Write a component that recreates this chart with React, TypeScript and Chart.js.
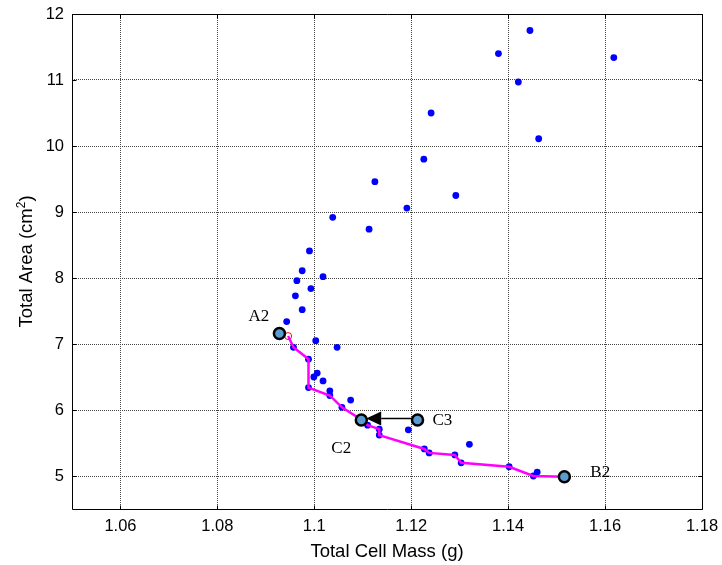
import React, { useEffect, useRef } from 'react';
import { Chart, registerables } from 'chart.js';

Chart.register(...registerables);

// ---- data ----
const cellMass = [
  1.1125, 1.1191, 1.1038, 1.1113, 1.0990, 1.0975, 1.1018, 1.0964, 1.0993, 1.0961,
  1.0975, 1.0943, 1.1003, 1.0957, 1.1047, 1.0988, 1.1006, 1.0999, 1.1018, 1.0988,
  1.1032, 1.1032, 1.1075, 1.1057, 1.1110, 1.1134, 1.1134, 1.1194, 1.1227, 1.1237,
  1.1320, 1.1290, 1.1303, 1.1402, 1.1452, 1.1460, 1.1445, 1.1380, 1.1618, 1.1421,
  1.1241, 1.1463, 1.1226, 1.1292,
];
const totalArea = [
  9.46, 9.06, 8.92, 8.74, 8.41, 8.11, 8.02, 7.96, 7.84, 7.73,
  7.52, 7.34, 7.05, 6.95, 6.95, 6.77, 6.56, 6.50, 6.44, 6.34,
  6.29, 6.22, 6.15, 6.04, 5.77, 5.71, 5.62, 5.70, 5.41, 5.35,
  5.48, 5.32, 5.20, 5.14, 5.00, 5.06, 11.75, 11.40, 11.34, 10.97,
  10.50, 10.11, 9.80, 9.25,
];
const pathMass = [
  1.0946, 1.0957, 1.0988, 1.0988, 1.1032, 1.1057, 1.1098, 1.1110, 1.1134, 1.1134,
  1.1227, 1.1237, 1.1290, 1.1303, 1.1402, 1.1452, 1.1517,
];
const pathArea = [
  7.12, 6.95, 6.77, 6.34, 6.22, 6.04, 5.85, 5.77, 5.71, 5.62,
  5.41, 5.35, 5.32, 5.20, 5.14, 5.00, 4.99,
];
const keyNames = ['A2', 'B2', 'C2', 'C3'];
const keyMass = [1.0928, 1.1516, 1.1097, 1.1213];
const keyArea = [7.16, 4.99, 5.85, 5.85];
const arrowMass = [1.1213, 1.1107]; // from C3 towards C2
const arrowArea = [5.87, 5.87];
const xTicks = [1.06, 1.08, 1.1, 1.12, 1.14, 1.16, 1.18];
const yTicks = [5, 6, 7, 8, 9, 10, 11, 12];
const xLimits = [1.05, 1.18];
const yLimits = [4.5, 12];

// ---- styles ----
const labelOffsets: Record<string, [number, number]> = {
  A2: [-31, -12],
  B2: [26, 0],
  C2: [-30, 33],
  C3: [15, 5],
};
const SANS = "'Liberation Sans', Arial, sans-serif";
const SERIF = "'Liberation Serif', 'Times New Roman', serif";

const decor = {
  id: 'matlabDecor',
  beforeDatasetDraw(chart: any, args: any) {
    if (args.index !== 0) return;
    const xs = chart.scales.x;
    const ys = chart.scales.y;
    const ctx = chart.ctx as CanvasRenderingContext2D;
    const x0 = xs.getPixelForValue(arrowMass[0]);
    const x1 = xs.getPixelForValue(arrowMass[1]);
    const y0 = ys.getPixelForValue(arrowArea[0]);
    const y1 = ys.getPixelForValue(arrowArea[1]);
    const ang = Math.atan2(y1 - y0, x1 - x0);
    const hl = 15;
    const hw = 7;
    const bx = x1 - hl * Math.cos(ang);
    const by = y1 - hl * Math.sin(ang);
    ctx.save();
    ctx.strokeStyle = '#000';
    ctx.fillStyle = '#000';
    ctx.lineWidth = 1.5;
    ctx.beginPath();
    ctx.moveTo(x0, y0);
    ctx.lineTo(bx, by);
    ctx.stroke();
    ctx.beginPath();
    ctx.moveTo(x1, y1);
    ctx.lineTo(bx + hw * Math.sin(ang), by - hw * Math.cos(ang));
    ctx.lineTo(bx - hw * Math.sin(ang), by + hw * Math.cos(ang));
    ctx.closePath();
    ctx.fill();
    ctx.restore();
  },
  afterDraw(chart: any) {
    const ctx = chart.ctx as CanvasRenderingContext2D;
    const a = chart.chartArea;
    const xs = chart.scales.x;
    const ys = chart.scales.y;
    ctx.save();
    // box
    ctx.strokeStyle = '#000';
    ctx.lineWidth = 1;
    const L = Math.round(a.left) + 0.5;
    const R = Math.round(a.right) + 0.5;
    const T = Math.round(a.top) + 0.5;
    const B = Math.round(a.bottom) + 0.5;
    ctx.beginPath();
    ctx.rect(L, T, R - L, B - T);
    ctx.stroke();
    // inward ticks
    const tl = 4;
    ctx.beginPath();
    xTicks.forEach((v) => {
      const px = Math.round(xs.getPixelForValue(v)) + 0.5;
      ctx.moveTo(px, B);
      ctx.lineTo(px, B - tl);
      ctx.moveTo(px, T);
      ctx.lineTo(px, T + tl);
    });
    yTicks.forEach((v) => {
      const py = Math.round(ys.getPixelForValue(v)) + 0.5;
      ctx.moveTo(L, py);
      ctx.lineTo(L + tl, py);
      ctx.moveTo(R, py);
      ctx.lineTo(R - tl, py);
    });
    ctx.stroke();

    // axis titles
    ctx.fillStyle = '#000';
    ctx.font = `18.5px ${SANS}`;
    ctx.textBaseline = 'alphabetic';
    ctx.textAlign = 'center';
    ctx.fillText('Total Cell Mass (g)', (a.left + a.right) / 2, 557);

    // y title with superscript
    const main = 'Total Area (cm';
    const sup = '2';
    const tail = ')';
    ctx.font = `18.5px ${SANS}`;
    const wMain = ctx.measureText(main).width;
    const wTail = ctx.measureText(tail).width;
    ctx.font = `12px ${SANS}`;
    const wSup = ctx.measureText(sup).width;
    const total = wMain + wSup + wTail;
    ctx.save();
    ctx.translate(32, (a.top + a.bottom) / 2);
    ctx.rotate(-Math.PI / 2);
    ctx.textAlign = 'left';
    ctx.font = `18.5px ${SANS}`;
    ctx.fillText(main, -total / 2, 0);
    ctx.font = `12px ${SANS}`;
    ctx.fillText(sup, -total / 2 + wMain, -7);
    ctx.font = `18.5px ${SANS}`;
    ctx.fillText(tail, -total / 2 + wMain + wSup, 0);
    ctx.restore();

    // point labels
    ctx.font = `17px ${SERIF}`;
    ctx.textAlign = 'left';
    keyNames.forEach((n, i) => {
      const px = xs.getPixelForValue(keyMass[i]);
      const py = ys.getPixelForValue(keyArea[i]);
      const off = labelOffsets[n];
      ctx.fillText(n, px + off[0], py + off[1]);
    });
    ctx.restore();
  },
};

export default function App() {
  const ref = useRef<HTMLCanvasElement | null>(null);
  useEffect(() => {
    document.body.style.margin = '0';
    const canvas = ref.current;
    if (!canvas) return;
    const pts = (xa: number[], ya: number[]) => xa.map((x, i) => ({ x, y: ya[i] }));
    const chart = new Chart(canvas, {
      type: 'scatter',
      data: {
        datasets: [
          {
            label: 'keys',
            data: pts(keyMass, keyArea),
            pointRadius: 5.5,
            pointBorderWidth: 2.5,
            pointBorderColor: '#000',
            pointBackgroundColor: '#5a9bd0',
            showLine: false,
          },
          {
            label: 'path',
            data: pts(pathMass, pathArea),
            showLine: true,
            borderColor: '#ff00ff',
            borderWidth: 2.5,
            pointRadius: 0,
            tension: 0,
            fill: false,
          },
          {
            label: 'ends',
            data: [
              { x: pathMass[0], y: pathArea[0] },
              { x: pathMass[pathMass.length - 1], y: pathArea[pathArea.length - 1] },
            ],
            pointRadius: 3.5,
            pointBorderWidth: 1,
            pointBorderColor: '#ff0000',
            pointBackgroundColor: 'rgba(0,0,0,0)',
            showLine: false,
          },
          {
            label: 'cells',
            data: pts(cellMass, totalArea),
            pointRadius: 3.4,
            pointBorderWidth: 0,
            pointBackgroundColor: '#0000ff',
            pointBorderColor: '#0000ff',
            showLine: false,
          },
        ],
      },
      options: {
        responsive: false,
        animation: false,
        events: [],
        layout: { padding: { top: 14, right: 20, left: 0, bottom: 0 } },
        plugins: { legend: { display: false }, tooltip: { enabled: false } },
        scales: {
          x: {
            type: 'linear',
            min: xLimits[0],
            max: xLimits[1],
            afterBuildTicks: (s: any) => {
              s.ticks = xTicks.map((v) => ({ value: v }));
            },
            afterFit: (s: any) => {
              s.height = 56;
              s.paddingLeft = 0;
              s.paddingRight = 0;
            },
            ticks: {
              color: '#000',
              padding: 8,
              maxRotation: 0,
              autoSkip: false,
              font: { family: SANS, size: 16.5 },
              callback: (v: any) => String(Number(Number(v).toFixed(2))),
            },
            grid: {
              color: '#444',
              lineWidth: 1,
              drawTicks: false,
            },
            border: { display: false, dash: [1, 1] },
          },
          y: {
            type: 'linear',
            min: yLimits[0],
            max: yLimits[1],
            afterBuildTicks: (s: any) => {
              s.ticks = yTicks.map((v) => ({ value: v }));
            },
            afterFit: (s: any) => {
              s.width = 72;
              s.paddingTop = 0;
              s.paddingBottom = 0;
            },
            ticks: {
              color: '#000',
              padding: 8,
              autoSkip: false,
              font: { family: SANS, size: 16.5 },
              callback: (v: any) => String(v),
            },
            grid: {
              color: '#444',
              lineWidth: 1,
              drawTicks: false,
            },
            border: { display: false, dash: [1, 1] },
          },
        },
      },
      plugins: [decor],
    });
    return () => chart.destroy();
  }, []);
  return <canvas ref={ref} width={722} height={565} style={{ display: 'block', width: 722, height: 565 }} />;
}
